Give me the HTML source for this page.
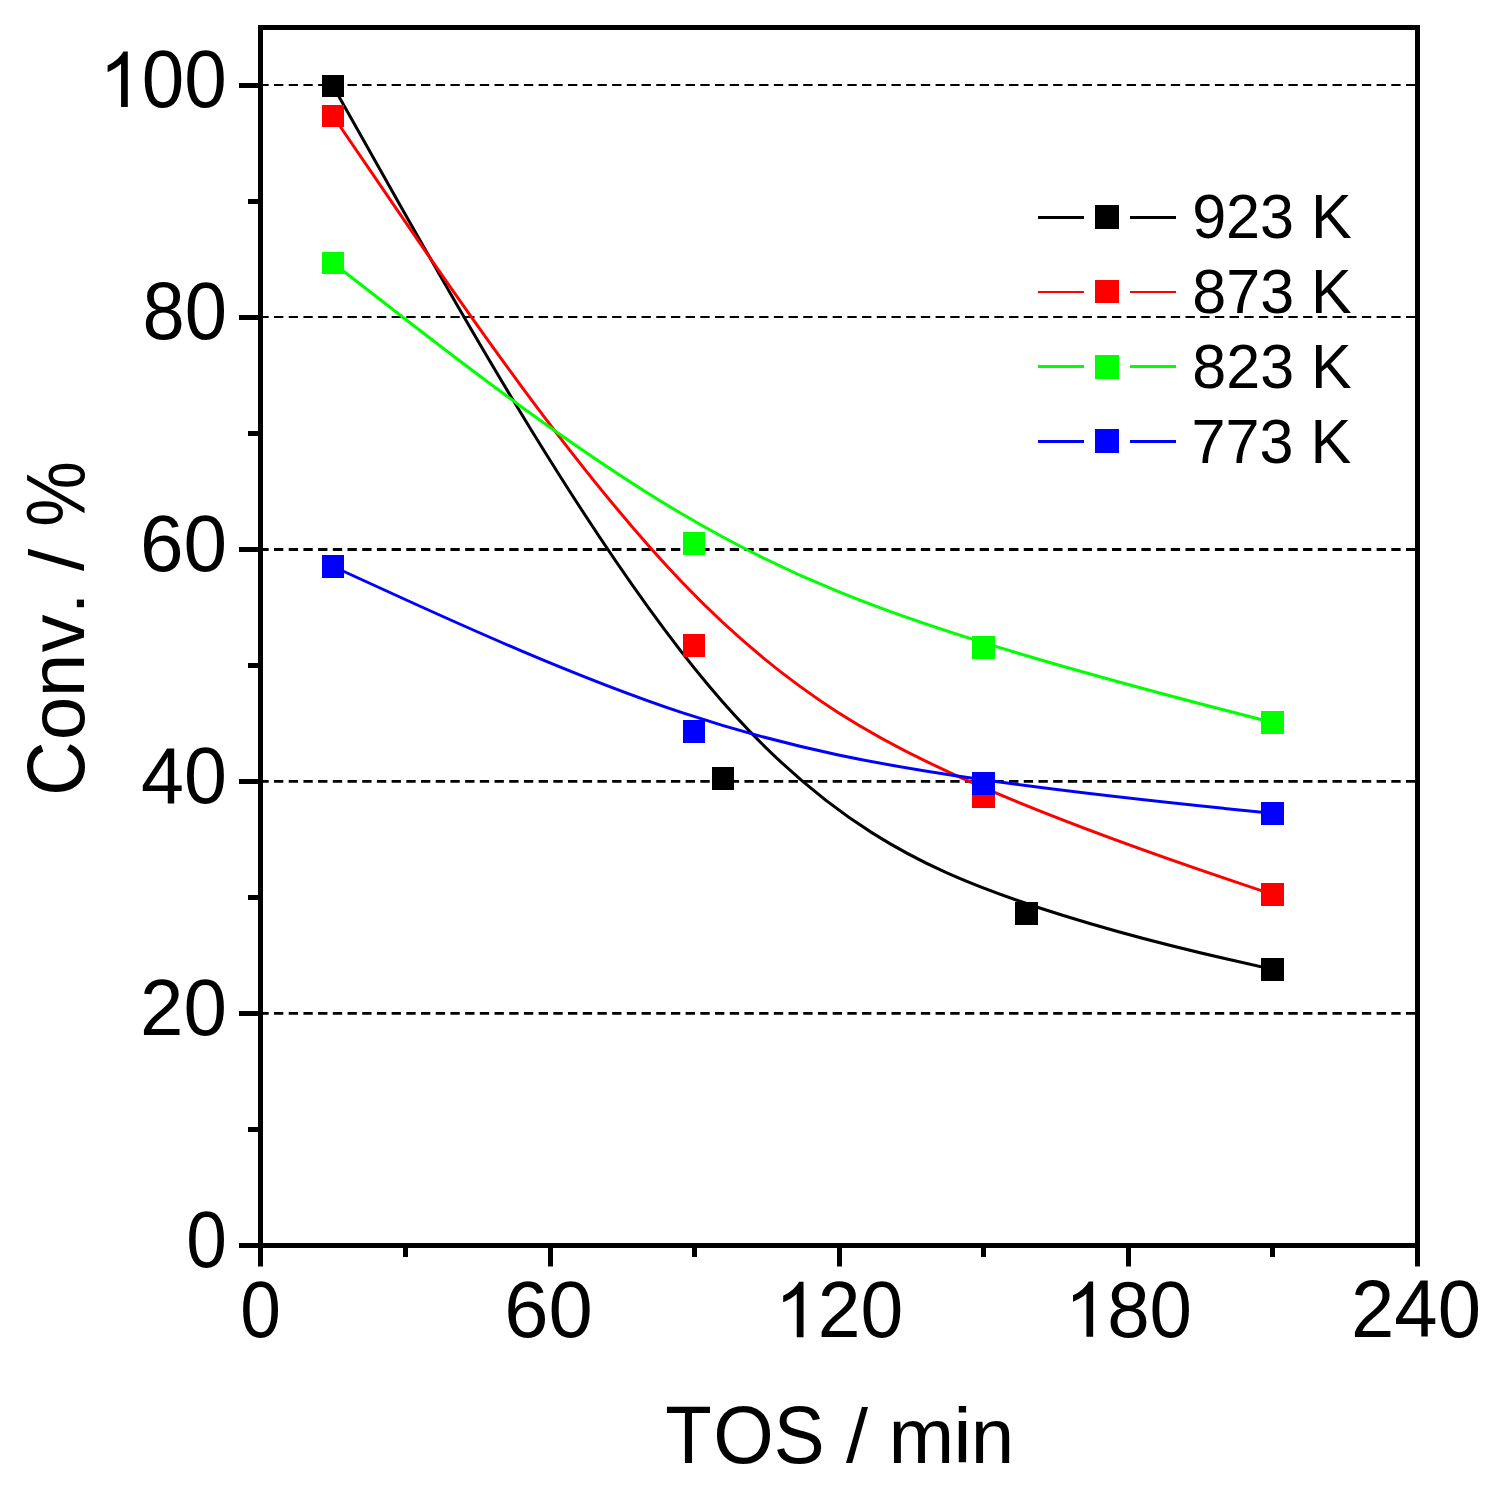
<!DOCTYPE html><html><head><meta charset="utf-8"><title>Conv. vs TOS</title><style>html,body{margin:0;padding:0;background:#fff;}svg{display:block;}text{font-family:"Liberation Sans",sans-serif;fill:#000;}</style></head><body>
<svg width="1497" height="1492" viewBox="0 0 1497 1492">
<rect width="1497" height="1492" fill="#fff"/>
<line x1="259.3" y1="1013.40" x2="1415" y2="1013.40" stroke="#000" stroke-width="2.8" stroke-dasharray="9.35 5.3513"/>
<line x1="259.3" y1="781.40" x2="1415" y2="781.40" stroke="#000" stroke-width="2.8" stroke-dasharray="9.35 5.3513"/>
<line x1="259.3" y1="549.45" x2="1415" y2="549.45" stroke="#000" stroke-width="2.9" stroke-dasharray="9.35 5.3513"/>
<line x1="259.3" y1="317.00" x2="1415" y2="317.00" stroke="#000" stroke-width="2.1" stroke-dasharray="9.35 5.3513"/>
<line x1="259.3" y1="85.00" x2="1415" y2="85.00" stroke="#000" stroke-width="2.1" stroke-dasharray="9.35 5.3513"/>
<path d="M333.00 86.00C333.00 86.00 333.00 86.00 398.00 201.40C463.00 316.80 593.00 547.60 708.58 685.50C824.17 823.40 925.33 868.40 1016.92 900.23C1108.50 932.07 1190.50 950.73 1231.50 960.07C1272.50 969.40 1272.50 969.40 1272.50 969.40" fill="none" stroke="#000000" stroke-width="3"/>
<path d="M333.00 116.00C333.00 116.00 333.00 116.00 393.17 204.22C453.33 292.43 573.67 468.87 682.08 582.28C790.50 695.70 887.00 746.10 983.42 787.62C1079.83 829.13 1176.17 861.77 1224.33 878.08C1272.50 894.40 1272.50 894.40 1272.50 894.40" fill="none" stroke="#ff0000" stroke-width="3"/>
<path d="M333.00 263.00C333.00 263.00 333.00 263.00 393.17 309.75C453.33 356.50 573.67 450.00 682.08 514.08C790.50 578.17 887.00 612.83 983.42 642.67C1079.83 672.50 1176.17 697.50 1224.33 710.00C1272.50 722.50 1272.50 722.50 1272.50 722.50" fill="none" stroke="#00ff00" stroke-width="3"/>
<path d="M333.00 566.50C333.00 566.50 333.00 566.50 393.17 594.00C453.33 621.50 573.67 676.50 682.08 712.67C790.50 748.83 887.00 766.17 983.42 779.82C1079.83 793.47 1176.17 803.43 1224.33 808.42C1272.50 813.40 1272.50 813.40 1272.50 813.40" fill="none" stroke="#0000ff" stroke-width="3"/>
<rect x="322" y="75" width="22" height="22" fill="#000000"/>
<rect x="712" y="767" width="22" height="23" fill="#000000"/>
<rect x="1015" y="902" width="23" height="23" fill="#000000"/>
<rect x="1261" y="958" width="23" height="23" fill="#000000"/>
<rect x="322" y="105" width="22" height="22" fill="#ff0000"/>
<rect x="683" y="634" width="22" height="23" fill="#ff0000"/>
<rect x="972" y="785" width="23" height="23" fill="#ff0000"/>
<rect x="1261" y="883" width="23" height="23" fill="#ff0000"/>
<rect x="322" y="252" width="22" height="22" fill="#00ff00"/>
<rect x="683" y="532" width="22" height="23" fill="#00ff00"/>
<rect x="972" y="636" width="23" height="23" fill="#00ff00"/>
<rect x="1261" y="711" width="23" height="23" fill="#00ff00"/>
<rect x="322" y="555" width="22" height="23" fill="#0000ff"/>
<rect x="683" y="720" width="22" height="23" fill="#0000ff"/>
<rect x="972" y="772" width="23" height="23" fill="#0000ff"/>
<rect x="1261" y="802" width="23" height="23" fill="#0000ff"/>
<rect x="260.5" y="27.5" width="1157" height="1218" fill="none" stroke="#000" stroke-width="5"/>
<line x1="260.5" y1="1245" x2="260.5" y2="1266.5" stroke="#000" stroke-width="5"/>
<line x1="550.5" y1="1245" x2="550.5" y2="1266.5" stroke="#000" stroke-width="5"/>
<line x1="839.5" y1="1245" x2="839.5" y2="1266.5" stroke="#000" stroke-width="5"/>
<line x1="1128.5" y1="1245" x2="1128.5" y2="1266.5" stroke="#000" stroke-width="5"/>
<line x1="1417.5" y1="1245" x2="1417.5" y2="1266.5" stroke="#000" stroke-width="5"/>
<line x1="405.5" y1="1245" x2="405.5" y2="1257" stroke="#000" stroke-width="5"/>
<line x1="694.5" y1="1245" x2="694.5" y2="1257" stroke="#000" stroke-width="5"/>
<line x1="983.5" y1="1245" x2="983.5" y2="1257" stroke="#000" stroke-width="5"/>
<line x1="1272.5" y1="1245" x2="1272.5" y2="1257" stroke="#000" stroke-width="5"/>
<line x1="239" y1="1245.5" x2="261" y2="1245.5" stroke="#000" stroke-width="5"/>
<line x1="239" y1="1013.5" x2="261" y2="1013.5" stroke="#000" stroke-width="5"/>
<line x1="239" y1="781.5" x2="261" y2="781.5" stroke="#000" stroke-width="5"/>
<line x1="239" y1="549.5" x2="261" y2="549.5" stroke="#000" stroke-width="5"/>
<line x1="239" y1="317.5" x2="261" y2="317.5" stroke="#000" stroke-width="5"/>
<line x1="239" y1="85.5" x2="261" y2="85.5" stroke="#000" stroke-width="5"/>
<line x1="248" y1="1129.5" x2="261" y2="1129.5" stroke="#000" stroke-width="5"/>
<line x1="248" y1="897.5" x2="261" y2="897.5" stroke="#000" stroke-width="5"/>
<line x1="248" y1="665.5" x2="261" y2="665.5" stroke="#000" stroke-width="5"/>
<line x1="248" y1="433.5" x2="261" y2="433.5" stroke="#000" stroke-width="5"/>
<line x1="248" y1="201.5" x2="261" y2="201.5" stroke="#000" stroke-width="5"/>
<g transform="matrix(0.9312 0 0 1.0260 186.15 1267.01)"><text x="0.00" y="0" font-size="78.40">0</text></g>
<g transform="matrix(0.9968 0 0 1.0276 140.03 1035.21)"><text x="0.00" y="0" font-size="78.40">20</text></g>
<g transform="matrix(0.9842 0 0 1.0251 141.09 803.12)"><text x="0.00" y="0" font-size="78.40">40</text></g>
<g transform="matrix(0.9991 0 0 1.0258 139.98 571.21)"><text x="0.00" y="0" font-size="78.40">60</text></g>
<g transform="matrix(0.9686 0 0 1.0305 142.50 339.21)"><text x="0.00" y="0" font-size="78.40">80</text></g>
<g transform="matrix(0.9745 0 0 1.0305 99.32 107.11)"><path transform="scale(0.03828 -0.03664)" d="M763 0L583 0L583 1147Q518 1085 412 1023Q306 961 222 930L222 1104Q373 1175 486 1276Q599 1377 646 1472L763 1472Z"/><text x="43.60" y="0" font-size="78.40">00</text></g>
<g transform="matrix(0.9312 0 0 1.0233 240.25 1336.92)"><text x="0.00" y="0" font-size="78.40">0</text></g>
<g transform="matrix(1.0155 0 0 1.0269 504.16 1337.21)"><text x="0.00" y="0" font-size="78.40">60</text></g>
<g transform="matrix(0.9812 0 0 1.0269 774.86 1337.21)"><path transform="scale(0.03828 -0.03664)" d="M763 0L583 0L583 1147Q518 1085 412 1023Q306 961 222 930L222 1104Q373 1175 486 1276Q599 1377 646 1472L763 1472Z"/><text x="43.60" y="0" font-size="78.40">20</text></g>
<g transform="matrix(0.9728 0 0 1.0233 1064.73 1336.72)"><path transform="scale(0.03828 -0.03664)" d="M763 0L583 0L583 1147Q518 1085 412 1023Q306 961 222 930L222 1104Q373 1175 486 1276Q599 1377 646 1472L763 1472Z"/><text x="43.60" y="0" font-size="78.40">80</text></g>
<g transform="matrix(0.9927 0 0 1.0287 1351.09 1337.31)"><text x="0.00" y="0" font-size="78.40">240</text></g>
<g transform="matrix(0.9700 0 0 1.0364 665.19 1462.90)"><text x="0.00" y="0" font-size="78.40">T</text></g>
<g transform="matrix(0.9922 0 0 1.0467 713.22 1463.10)"><text x="0.00" y="0" font-size="78.40">O</text></g>
<g transform="matrix(0.9727 0 0 1.0467 773.74 1463.10)"><text x="0.00" y="0" font-size="78.40">S</text></g>
<g transform="matrix(1.0100 0 0 0.9709 846.10 1462.16)"><text x="0.00" y="0" font-size="78.40">/</text></g>
<g transform="matrix(1.0067 0 0 0.9956 888.46 1462.90)"><text x="0.00" y="0" font-size="78.40">m</text></g>
<g transform="matrix(1.0594 0 0 0.9840 953.24 1462.90)"><text x="0.00" y="0" font-size="78.40">i</text></g>
<g transform="matrix(0.9969 0 0 0.9956 970.71 1462.90)"><text x="0.00" y="0" font-size="78.40">n</text></g>
<g transform="matrix(0 -0.9587 1.0485 0 84.40 795.72)"><text x="0.00" y="0" font-size="78.40">C</text></g>
<g transform="matrix(0 -1.0022 1.0035 0 84.43 740.30)"><text x="0.00" y="0" font-size="78.40">o</text></g>
<g transform="matrix(0 -0.9969 0.9932 0 84.00 697.19)"><text x="0.00" y="0" font-size="78.40">n</text></g>
<g transform="matrix(0 -0.9621 0.9911 0 84.05 652.26)"><text x="0.00" y="0" font-size="78.40">v</text></g>
<g transform="matrix(0 -1.0181 0.8409 0 84.05 614.39)"><text x="0.00" y="0" font-size="78.40">.</text></g>
<g transform="matrix(0 -1.0192 0.9770 0 83.30 571.00)"><text x="0.00" y="0" font-size="78.40">/</text></g>
<g transform="matrix(0 -0.9404 1.0591 0 84.61 526.63)"><text x="0.00" y="0" font-size="78.40">%</text></g>
<g transform="matrix(1.0015 0 0 1.0419 1192.14 238.38)"><text x="0.00" y="0" font-size="61.00">923 K</text></g>
<g transform="matrix(1.0002 0 0 1.0419 1192.35 313.38)"><text x="0.00" y="0" font-size="61.00">873 K</text></g>
<g transform="matrix(1.0002 0 0 1.0419 1192.35 388.08)"><text x="0.00" y="0" font-size="61.00">823 K</text></g>
<g transform="matrix(1.0026 0 0 1.0419 1191.56 462.88)"><text x="0.00" y="0" font-size="61.00">773 K</text></g>
<line x1="1038" y1="217.40" x2="1084" y2="217.40" stroke="#000000" stroke-width="3"/>
<line x1="1130" y1="217.40" x2="1176" y2="217.40" stroke="#000000" stroke-width="3"/>
<rect x="1095" y="205" width="24" height="24" fill="#000000"/>
<line x1="1038" y1="291.90" x2="1084" y2="291.90" stroke="#ff0000" stroke-width="2"/>
<line x1="1130" y1="291.90" x2="1176" y2="291.90" stroke="#ff0000" stroke-width="2"/>
<rect x="1095" y="280" width="24" height="23" fill="#ff0000"/>
<line x1="1038" y1="366.50" x2="1084" y2="366.50" stroke="#00ff00" stroke-width="3.1"/>
<line x1="1130" y1="366.50" x2="1176" y2="366.50" stroke="#00ff00" stroke-width="3.1"/>
<rect x="1095" y="355" width="24" height="24" fill="#00ff00"/>
<line x1="1038" y1="441.50" x2="1084" y2="441.50" stroke="#0000ff" stroke-width="3"/>
<line x1="1130" y1="441.50" x2="1176" y2="441.50" stroke="#0000ff" stroke-width="3"/>
<rect x="1095" y="429" width="24" height="24" fill="#0000ff"/>
</svg></body></html>
